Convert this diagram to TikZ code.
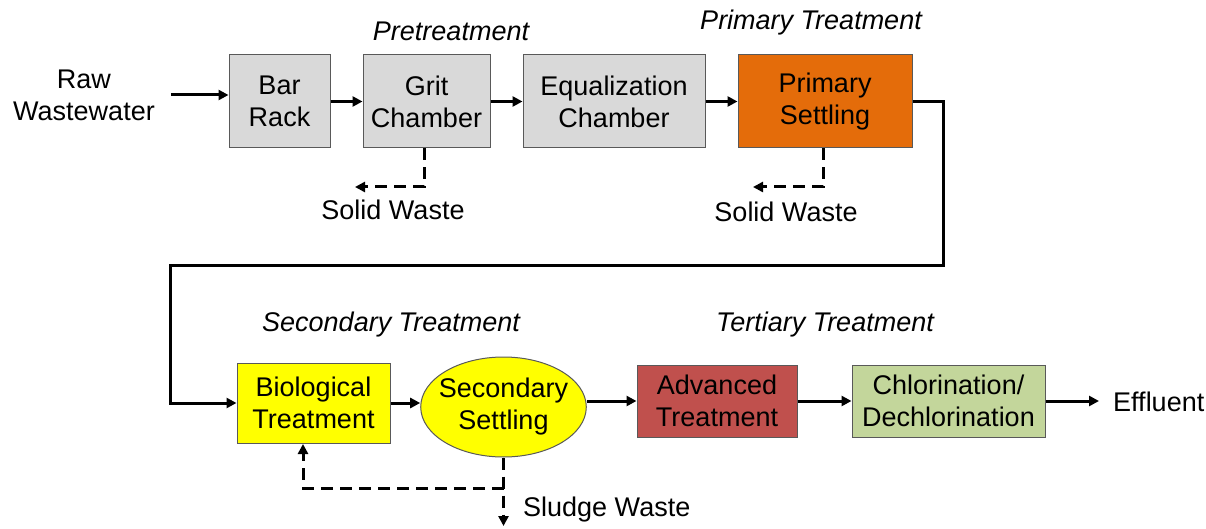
\documentclass[tikz,border=0pt]{standalone}
\usepackage{fontspec}
\setmainfont{Liberation Sans}
\usetikzlibrary{arrows.meta,shapes.geometric}
\definecolor{boxgray}{HTML}{D9D9D9}
\definecolor{boxorange}{HTML}{E46C0A}
\definecolor{boxyellow}{HTML}{FFFF00}
\definecolor{boxred}{HTML}{C0504D}
\definecolor{boxgreen}{HTML}{C3D69B}
\definecolor{edgegray}{HTML}{595959}
\begin{document}
\begin{tikzpicture}[x=1pt,y=-1pt,
  every node/.style={font=\fontsize{27}{32}\selectfont, align=center, inner sep=0pt},
  proc/.style={draw=edgegray, line width=1pt, rectangle},
  tip/.style={-{Triangle[length=10pt,width=10pt]}},
  arr/.style={line width=3pt, tip},
  dsh/.style={line width=3pt, dash pattern=on 12pt off 7pt, tip},
  lbl/.style={font=\fontsize{27}{32}\selectfont\itshape}]
\useasboundingbox (0,0) rectangle (1206,529);
% top row
\node (raw) at (84,95) {Raw\\Wastewater};
\node[proc, fill=boxgray, minimum width=101pt, minimum height=93pt] (bar) at (279.5,101.5) {Bar\\Rack};
\node[proc, fill=boxgray, minimum width=127pt, minimum height=93pt] (grit) at (426.5,101.5) {Grit\\Chamber};
\node[proc, fill=boxgray, minimum width=182pt, minimum height=93pt] (eq) at (614,101.5) {Equalization\\Chamber};
\node[proc, fill=boxorange, minimum width=174pt, minimum height=93pt] (prim) at (825,101.5) {Primary\\Settling};
\node[lbl] (pre) at (451,31) {Pretreatment};
\node[lbl] (pt) at (811,23) {Primary Treatment};
\node (sw1) at (393,210) {Solid Waste};
\node (sw2) at (786,212) {Solid Waste};
% bottom row
\node[proc, fill=boxyellow, minimum width=153pt, minimum height=80pt] (bio) at (313.5,403) {Biological\\Treatment};
\node[draw=edgegray, line width=1pt, ellipse, fill=boxyellow, inner sep=-6pt, minimum width=161pt, minimum height=100pt] (sec) at (503.5,407) {Secondary\\Settling};
\node[proc, fill=boxred, minimum width=160pt, minimum height=72pt] (adv) at (717,401) {Advanced\\Treatment};
\node[proc, fill=boxgreen, minimum width=193pt, minimum height=72pt] (chl) at (948.5,401) {Chlorination/\\Dechlorination};
\node[anchor=west] (eff) at (1113,402) {Effluent};
\node[lbl] (st) at (391,325) {Secondary Treatment};
\node[lbl] (tt) at (825,325) {Tertiary Treatment};
\node[anchor=west] (sl) at (523,510) {Sludge Waste};
% coordinates
\coordinate (c1) at (943,265);
\coordinate (c2) at (170,265);
\coordinate (gw) at (355,187);
\coordinate (pw) at (753,187);
\coordinate (sj) at (503.5,488);
\coordinate (sd) at (503.5,526);
\coordinate (bf) at (303,444);
\coordinate (effin) at (1099,401);
% connectors
\draw[arr] ([xshift=16pt]raw.east) -- (bar.west |- raw.east);
\draw[arr] (bar.east) -- (grit.west);
\draw[arr] (grit.east) -- (eq.west);
\draw[arr] (eq.east) -- (prim.west);
\draw[arr] (prim.east) -| (c1) -- (c2) |- (bio.west);
\draw[arr] (bio.east) -- (sec.west |- bio.east);
\draw[arr] (sec.east |- adv.west) -- (adv.west);
\draw[arr] (adv.east) -- (chl.west);
\draw[arr] (chl.east) -- (effin);
\draw[dsh] ([xshift=-2.5pt]grit.south) |- (gw);
\draw[dsh] ([xshift=-2pt]prim.south) |- (pw);
\draw[dsh] (sec.south) -- (sd);
\draw[dsh] (sj) -| (bf);
\end{tikzpicture}
\end{document}
